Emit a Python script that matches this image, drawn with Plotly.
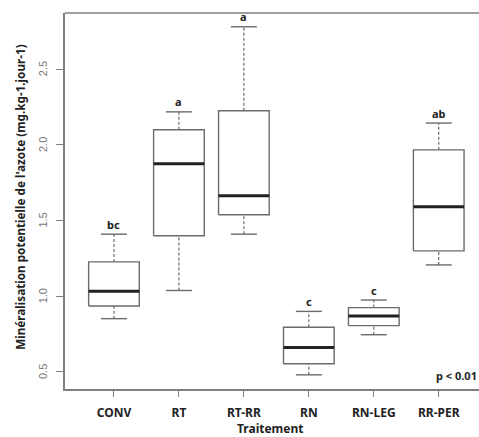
import plotly.graph_objects as go

categories = ["CONV", "RT", "RT-RR", "RN", "RN-LEG", "RR-PER"]
lower_whisker = [0.852, 1.038, 1.41, 0.481, 0.746, 1.207]
q1 = [0.936, 1.40, 1.538, 0.554, 0.806, 1.30]
median = [1.033, 1.876, 1.664, 0.662, 0.870, 1.591]
q3 = [1.227, 2.10, 2.225, 0.795, 0.925, 1.967]
upper_whisker = [1.41, 2.218, 2.78, 0.90, 0.975, 2.144]
letters = ["bc", "a", "a", "c", "c", "ab"]
y_ticks = [0.5, 1.0, 1.5, 2.0, 2.5]
y_tick_labels = ["0.5", "1.0", "1.5", "2.0", "2.5"]

BOX_HALF = 0.39
CAP_HALF = 0.2
BOX_COLOR = "#6b6b6b"
MED_COLOR = "#222222"
AXIS_COLOR = "#808080"

fig = go.Figure()

for i, cat in enumerate(categories):
    x = i + 1
    # dashed whiskers
    fig.add_trace(go.Scatter(x=[x, x], y=[q3[i], upper_whisker[i]], mode="lines",
                             line=dict(color=BOX_COLOR, width=1.2, dash="3px,2px"),
                             hoverinfo="skip", showlegend=False))
    fig.add_trace(go.Scatter(x=[x, x], y=[lower_whisker[i], q1[i]], mode="lines",
                             line=dict(color=BOX_COLOR, width=1.2, dash="3px,2px"),
                             hoverinfo="skip", showlegend=False))
    # caps
    for yv in (upper_whisker[i], lower_whisker[i]):
        fig.add_trace(go.Scatter(x=[x - CAP_HALF, x + CAP_HALF], y=[yv, yv], mode="lines",
                                 line=dict(color=BOX_COLOR, width=1.4),
                                 hoverinfo="skip", showlegend=False))
    # box
    fig.add_trace(go.Scatter(
        x=[x - BOX_HALF, x + BOX_HALF, x + BOX_HALF, x - BOX_HALF, x - BOX_HALF],
        y=[q1[i], q1[i], q3[i], q3[i], q1[i]], mode="lines",
        fill="toself", fillcolor="white",
        line=dict(color=BOX_COLOR, width=1.4),
        name=cat, showlegend=False))
    # median
    fig.add_trace(go.Scatter(x=[x - BOX_HALF, x + BOX_HALF], y=[median[i], median[i]], mode="lines",
                             line=dict(color=MED_COLOR, width=3),
                             hoverinfo="skip", showlegend=False))
    fig.add_annotation(x=x, y=upper_whisker[i], text="<b>%s</b>" % letters[i], showarrow=False,
                       yanchor="middle", yshift=10,
                       font=dict(family="Noto Sans", size=11, color="#222222"))

# y tick labels (rotated, R style)
for yv, lab in zip(y_ticks, y_tick_labels):
    fig.add_annotation(xref="paper", x=-0.053, y=yv, text=lab, textangle=-90, showarrow=False,
                       xanchor="center", yanchor="middle",
                       font=dict(family="Liberation Sans", size=11, color="#777777"))

fig.add_shape(type="line", xref="paper", yref="paper", x0=0, x1=1, y0=1, y1=1,
              line=dict(color=AXIS_COLOR, width=1.5))

fig.add_annotation(xref="paper", yref="paper", x=1, y=0.035, xanchor="right", yanchor="middle",
                   text="<b>p < 0.01</b>", showarrow=False,
                   font=dict(family="Noto Sans", size=11, color="#222222"))
fig.add_annotation(xref="paper", yref="paper", x=0.495, y=-0.104, xanchor="center", yanchor="middle",
                   text="<b>Traitement</b>", showarrow=False,
                   font=dict(family="Noto Sans", size=12, color="#222222"))
fig.add_annotation(xref="paper", yref="paper", x=-0.109, y=0.511, xanchor="center", yanchor="middle",
                   text="<b>Minéralisation potentielle de l'azote (mg.kg-1.jour-1)</b>",
                   textangle=-90, showarrow=False,
                   font=dict(family="Noto Sans", size=11.7, color="#222222"))

fig.update_layout(
    width=479, height=437,
    margin=dict(l=65, r=0, t=13, b=48),
    plot_bgcolor="white", paper_bgcolor="white",
    hovermode=False,
    xaxis=dict(range=[0.246, 6.62], tickmode="array", tickvals=list(range(1, len(categories) + 1)),
               ticktext=["<b>%s</b>" % c for c in categories],
               showline=True, linecolor=AXIS_COLOR, linewidth=1.5,
               ticks="outside", ticklen=6, tickcolor=AXIS_COLOR, tickwidth=1.2,
               ticklabelstandoff=6,
               showgrid=False, zeroline=False,
               tickfont=dict(family="Noto Sans", size=12, color="#222222")),
    yaxis=dict(range=[0.3874, 2.871], tickmode="array", tickvals=y_ticks,
               showticklabels=False,
               showline=True, linecolor=AXIS_COLOR, linewidth=1.5,
               ticks="outside", ticklen=7, tickcolor=AXIS_COLOR, tickwidth=1.2,
               showgrid=False, zeroline=False),
)

# remove the default 8px page margin so the figure fills the window exactly
fig.write_html("out.html", config={"displayModeBar": False},
               post_script="document.body.style.margin='0';")
